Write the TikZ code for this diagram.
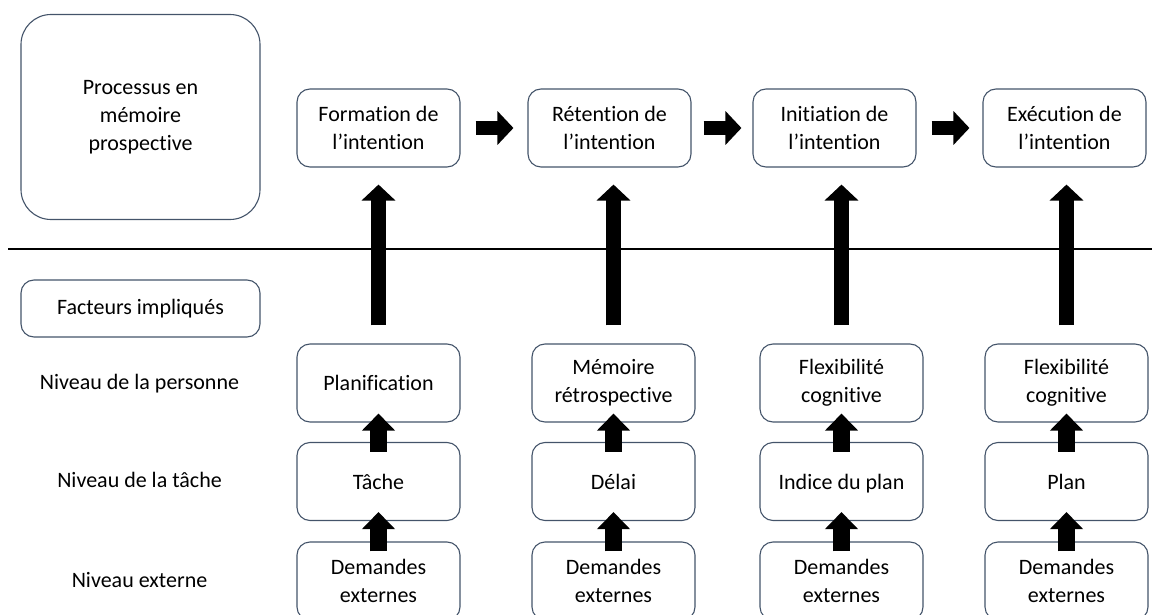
\documentclass[tikz,border=0pt]{standalone}
\usepackage{fontspec}
\setmainfont[Ligatures={TeX,NoCommon}]{Carlito}
\usepackage{xcolor}
\usepackage{tikz}
\usetikzlibrary{arrows.meta,positioning}

\definecolor{boxline}{RGB}{68,84,106}

\begin{document}
\begin{tikzpicture}[x=1pt,y=-1pt,
    box/.style={draw=boxline, line width=1.1pt, rounded corners=13pt, minimum width=163pt, minimum height=78pt, align=center, text=black, font=\fontsize{22}{28}\selectfont},
    levelname/.style={align=center, text=black, font=\fontsize{22}{28}\selectfont},
    bigarrow/.style={line width=15pt, -{Triangle[length=16pt,width=33pt]}},
    smallarrow/.style={line width=17pt, -{Triangle[length=17pt,width=32pt]}}]
                        \useasboundingbox (0,0) rectangle (1152,615);
                        \node[box, minimum width=239pt, minimum height=205pt, rounded corners=30pt] (proc) at (140.5,117) {Processus en\\mémoire\\prospective};
                        \node[box] (form) at (378.5,128) {Formation de\\l’intention};
                        \node[box] (ret) at (609.5,128) {Rétention de\\l’intention};
                        \node[box] (init) at (834.5,128) {Initiation de\\l’intention};
                        \node[box] (exec) at (1064.5,128) {Exécution de\\l’intention};
                        \draw [line width=1.6pt] (8,249) -- (1152,249);
                        \node[box, minimum width=239pt, minimum height=57pt] (fact) at (140.5,308.5) {Facteurs impliqués};
                        \node[levelname] (pers) at (139.5,384) {Niveau de la personne};
                        \node[levelname] (tach) at (139.5,480) {Niveau de la tâche};
                        \node[levelname] (ext) at (139.5,580) {Niveau externe};
                        % colonne 1
                        \node[box] (plan) at (378.5,383) {Planification};
                        \node[box] (tache) at (378.5,481.5) {Tâche};
                        \node[box] (dem1) at (378.5,581) {Demandes\\externes};
                        % colonne 2
                        \node[box] (memo) at (613.5,383) {Mémoire\\rétrospective};
                        \node[box] (delai) at (613.5,481.5) {Délai};
                        \node[box] (dem2) at (613.5,581) {Demandes\\externes};
                        % colonne 3
                        \node[box] (flex1) at (841.5,383) {Flexibilité\\cognitive};
                        \node[box, text depth=0pt] (indice) at (841.5,481.5) {Indice du plan};
                        \node[box] (dem3) at (841.5,581) {Demandes\\externes};
                        % colonne 4
                        \node[box] (flex2) at (1066.5,383) {Flexibilité\\cognitive};
                        \node[box] (pln) at (1066.5,481.5) {Plan};
                        \node[box] (dem4) at (1066.5,581) {Demandes\\externes};
                        % fleches du processus
                        \draw [bigarrow, line width=14pt, shorten <=15pt, shorten >=14pt] (form) -- (ret);
                        \draw [bigarrow, line width=14pt, shorten <=12pt, shorten >=11pt] (ret) -- (init);
                        \draw [bigarrow, line width=14pt, shorten <=15pt, shorten >=13pt] (init) -- (exec);
                        \draw [bigarrow, shorten <=18pt, shorten >=17pt] (plan.north) -- (plan.north |- form.south);
                        \draw [bigarrow, shorten <=18pt, shorten >=17pt] (memo.north) -- (memo.north |- ret.south);
                        \draw [bigarrow, shorten <=18pt, shorten >=17pt] (flex1.north) -- (flex1.north |- init.south);
                        \draw [bigarrow, shorten <=18pt, shorten >=17pt] (flex2.north) -- (flex2.north |- exec.south);
                        % fleches des facteurs
                        \draw [smallarrow, shorten <=-10pt, shorten >=-9pt] (tache) -- (plan);
                        \draw [smallarrow, shorten <=-10pt, shorten >=-9pt] (dem1) -- (tache);
                        \draw [smallarrow, shorten <=-10pt, shorten >=-9pt] (delai) -- (memo);
                        \draw [smallarrow, shorten <=-10pt, shorten >=-9pt] (dem2) -- (delai);
                        \draw [smallarrow, shorten <=-10pt, shorten >=-9pt] (indice) -- (flex1);
                        \draw [smallarrow, shorten <=-10pt, shorten >=-9pt] (dem3) -- (indice);
                        \draw [smallarrow, shorten <=-10pt, shorten >=-9pt] (pln) -- (flex2);
                        \draw [smallarrow, shorten <=-10pt, shorten >=-9pt] (dem4) -- (pln);
                        \end{tikzpicture}
\end{document}
